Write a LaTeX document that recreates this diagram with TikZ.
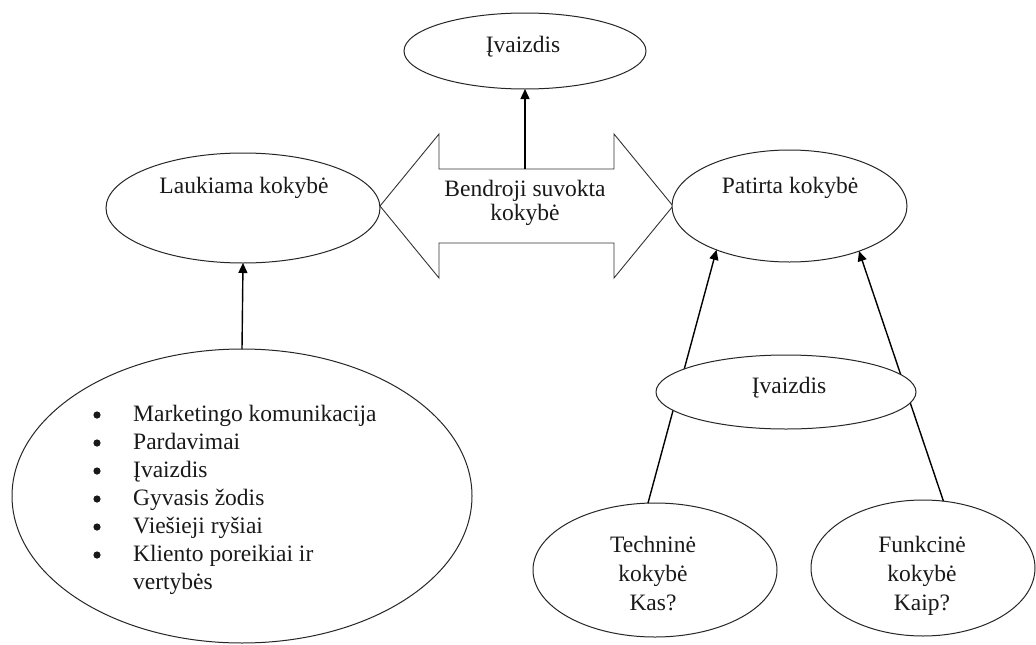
\documentclass[tikz,border=0pt]{standalone}
\usepackage{fontspec}
\setmainfont{Liberation Serif}
\usetikzlibrary{shapes.geometric,arrows.meta}
\begin{document}
\begin{tikzpicture}[x=1pt,y=-1pt,
  oval/.style={ellipse,draw=black!85,line width=1pt,fill=white,inner sep=0pt,outer sep=0pt},
  conn/.style={draw=black,line width=1.4pt,-{Triangle[length=10pt,width=9pt]}},
  lbl/.style={inner sep=0pt,font=\fontsize{23.5}{29}\selectfont,text=black!90},
  listdot/.style={fill=black!90},
  bigarrow/.style={draw=black!80,line width=0.9pt}]
  % canvas
  \fill[white] (0,0) rectangle (1036,645);
  \useasboundingbox (0,0) rectangle (1036,645);

  % double-headed block arrow in the middle
  \draw[bigarrow] (380,206) -- (439,134) -- (439,169) -- (614,169) -- (614,134)
    -- (673,206) -- (614,278) -- (614,243) -- (439,243) -- (439,278) -- cycle;
  \coordinate (bodytop) at (525,169);

  % ellipses
  \node[oval,minimum width=242pt,minimum height=76pt] (top) at (525,51) {};
  \node[oval,minimum width=274pt,minimum height=110pt] (lauk) at (243,208) {};
  \node[oval,minimum width=235pt,minimum height=112pt] (pat) at (789.5,206) {};
  \node[oval,minimum width=460pt,minimum height=294pt] (big) at (242,496) {};
  \node[oval,minimum width=244pt,minimum height=134pt] (tech) at (655,570) {};
  \node[oval,minimum width=224pt,minimum height=136pt] (func) at (923,568) {};

  % connectors
  \draw[conn] (bodytop) -- (top.south);
  \draw[conn] (big.north) -- (lauk.south);
  \draw[conn] (tech.96) -- (pat.211);
  \draw[conn] (func.73) -- (pat.327.6);

  % image ellipse lying over the two long connectors
  \node[oval,minimum width=260pt,minimum height=74pt] (imid) at (786,392) {};

  % labels (multi-line labels are anchored at their last baseline)
  \node[lbl,anchor=base] (ttop) at (523,52) {Įvaizdis};
  \node[lbl,anchor=base] (tlauk) at (244,193) {Laukiama kokybė};
  \node[lbl,anchor=base,align=center,font=\fontsize{23.5}{23.5}\selectfont] (tmid) at (525,220) {Bendroji suvokta\\kokybė};
  \node[lbl,anchor=base] (tpat) at (790,193) {Patirta kokybė};
  \node[lbl,anchor=base] (timid) at (789,393) {Įvaizdis};
  \node[lbl,anchor=base,align=center] (ttech) at (653,610) {Techninė\\kokybė\\Kas?};
  \node[lbl,anchor=base,align=center] (tfunc) at (922,610) {Funkcinė\\kokybė\\Kaip?};

  % bulleted list inside the large ellipse
  \foreach \k in {0,...,5} \fill[listdot] (97,415+28*\k) circle (3.6pt);
  \node[lbl,anchor=base west,font=\fontsize{23.5}{28}\selectfont] (tlist) at (133,421) {%
    \begin{tabular}[t]{@{}l@{}}
      Marketingo komunikacija\\
      Pardavimai\\
      Įvaizdis\\
      Gyvasis žodis\\
      Viešieji ryšiai\\
      Kliento poreikiai ir\\
      vertybės
    \end{tabular}};
\end{tikzpicture}
\end{document}
